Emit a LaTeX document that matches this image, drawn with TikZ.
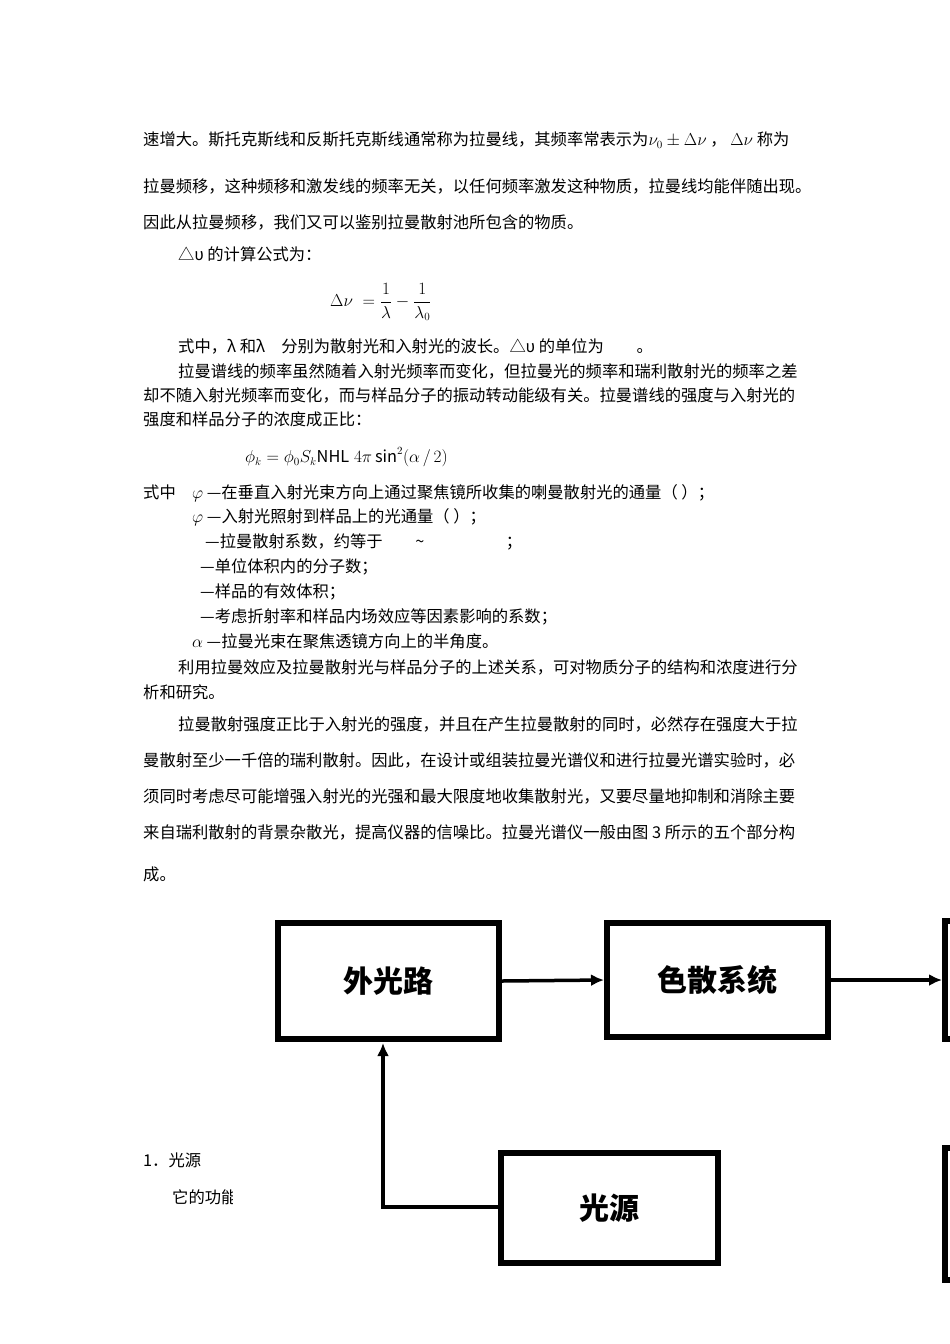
\documentclass[tikz,border=0pt]{standalone}
\usepackage{amsmath}
\usepackage{fontspec}
\setmainfont{Noto Sans CJK SC}
\usetikzlibrary{arrows.meta}
\begin{document}
\begin{tikzpicture}[x=1pt,y=-1pt,
  tl/.style={anchor=west,inner sep=0pt,font=\fontsize{16.3}{17}\selectfont},
  bx/.style={draw,line width=6pt,inner sep=0pt,font=\fontsize{30}{32}\bfseries},
  ar/.style={line width=3.5pt,-{Latex[length=13pt,width=12pt]}}]
\useasboundingbox (0,0) rectangle (950,1344);
\node[tl] (l1) at (143,140) {速增大。斯托克斯线和反斯托克斯线通常称为拉曼线，其频率常表示为$\nu_{0}\pm\Delta\nu$ ， $\Delta\nu$ 称为};
\node[tl] (l2) at (143,186) {拉曼频移，这种频移和激发线的频率无关，以任何频率激发这种物质，拉曼线均能伴随出现。};
\node[tl] (l3) at (143,222) {因此从拉曼频移，我们又可以鉴别拉曼散射池所包含的物质。};
\node[tl] (l4) at (178,254) {△υ 的计算公式为：};
\node[tl] (f1) at (330,302) {$\Delta\nu\;=\dfrac{1}{\lambda}-\dfrac{1}{\lambda_{0}}$};
\node[tl] (l5) at (178,346) {式中，λ 和λ\quad 分别为散射光和入射光的波长。△υ 的单位为\qquad 。};
\node[tl] (l6) at (178,371) {拉曼谱线的频率虽然随着入射光频率而变化，但拉曼光的频率和瑞利散射光的频率之差};
\node[tl] (l7) at (143,395) {却不随入射光频率而变化，而与样品分子的振动转动能级有关。拉曼谱线的强度与入射光的};
\node[tl] (l8) at (143,419) {强度和样品分子的浓度成正比：};
\node[tl] (f2) at (245,457) {$\phi_{k}=\phi_{0}S_{k}\mathit{NHL}\;4\pi\,\mathrm{sin}^{2}(\alpha\,/\,2)$};
\node[tl] (m1) at (143,493) {式中\quad $\varphi$ —在垂直入射光束方向上通过聚焦镜所收集的喇曼散射光的通量（ ）；};
\node[tl] (m2) at (192,517) {$\varphi$ —入射光照射到样品上的光通量（ ）；};
\node[tl] (m3) at (205,542) {—拉曼散射系数，约等于\qquad\textasciitilde\qquad\qquad\quad ；};
\node[tl] (m4) at (200,567) {—单位体积内的分子数；};
\node[tl] (m5) at (200,592) {—样品的有效体积；};
\node[tl] (m6) at (200,617) {—考虑折射率和样品内场效应等因素影响的系数；};
\node[tl] (m7) at (192,641) {$\alpha$ —拉曼光束在聚焦透镜方向上的半角度。};
\node[tl] (p1) at (178,667) {利用拉曼效应及拉曼散射光与样品分子的上述关系，可对物质分子的结构和浓度进行分};
\node[tl] (p2) at (143,692) {析和研究。};
\node[tl] (q1) at (178,724) {拉曼散射强度正比于入射光的强度，并且在产生拉曼散射的同时，必然存在强度大于拉};
\node[tl] (q2) at (143,760) {曼散射至少一千倍的瑞利散射。因此，在设计或组装拉曼光谱仪和进行拉曼光谱实验时，必};
\node[tl] (q3) at (143,796) {须同时考虑尽可能增强入射光的光强和最大限度地收集散射光，又要尽量地抑制和消除主要};
\node[tl] (q4) at (143,832) {来自瑞利散射的背景杂散光，提高仪器的信噪比。拉曼光谱仪一般由图 3 所示的五个部分构};
\node[tl] (q5) at (143,874) {成。};
\node[tl] (s1) at (143,1160) {1．光源};
\begin{scope}
\clip (160,1180) rectangle (232,1215);
\node[tl] (s2) at (172,1197) {它的功能};
\end{scope}
% diagram
\node[bx,minimum width=221pt,minimum height=116pt] (b1) at (388.5,981) {外光路};
\node[bx,minimum width=221pt,minimum height=114pt] (b2) at (717.5,980) {色散系统};
\node[bx,minimum width=217pt,minimum height=110pt] (b4) at (609,1208) {光源};
\begin{scope}
\clip (0,0) rectangle (950,1344);
\node[bx,minimum width=200pt,minimum height=118pt] (b3) at (1045,980) {};
\node[bx,minimum width=200pt,minimum height=132pt] (b5) at (1045,1214) {};
\end{scope}
\draw[ar] (b1.east) -- (b2.west);
\draw[ar] (b2.east) -- (b3.west);
\coordinate (c1) at (383,1207);
\draw[line width=3.5pt] (b4.west |- c1) -- (c1) -- (383,1075);
\draw[ar] (383,1080) -- (383,1043);
\end{tikzpicture}
\end{document}
